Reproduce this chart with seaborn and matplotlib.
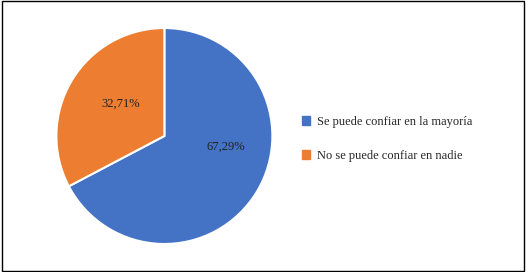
import matplotlib
matplotlib.use("Agg")
import matplotlib.pyplot as plt
import matplotlib.patches as mpatches
import seaborn as sns

categories = ["Se puede confiar en la mayoría", "No se puede confiar en nadie"]
values = [67.29, 32.71]
colors = ["#4472C4", "#ED7D31"]
label_pos = [(0.57, -0.10), (-0.40, 0.30)]

sns.set_theme(style="white")
plt.rcParams["font.family"] = ["Liberation Serif", "DejaVu Serif"]

fig = plt.figure(figsize=(5.26, 2.72), dpi=100)
ax = fig.add_axes([0.107, 0.103, 0.411, 0.794])

wedges, texts, autotexts = ax.pie(
    values, colors=colors, startangle=90, counterclock=False,
    autopct=lambda p: f"{p:.2f}%".replace(".", ","),
    wedgeprops={"edgecolor": "white", "linewidth": 1.5},
    textprops={"fontsize": 9, "color": "#222222"},
)
for t, v, pos in zip(autotexts, values, label_pos):
    t.set_text(f"{v:.2f}%".replace(".", ","))
    t.set_position(pos)
ax.set_xlim(-1.0, 1.0)
ax.set_ylim(-1.0, 1.0)
ax.set_aspect("equal")

handles = [mpatches.Patch(color=c, label=l) for c, l in zip(colors, categories)]
fig.legend(handles=handles, loc="center left", bbox_to_anchor=(0.552, 0.49),
           frameon=False, fontsize=9, handlelength=0.7, handleheight=0.7,
           handletextpad=0.55, labelspacing=1.75)

fig.patches.append(mpatches.Rectangle((0.003, 0.004), 0.994, 0.992,
                                      transform=fig.transFigure, fill=False,
                                      edgecolor="black", linewidth=1.0))

fig.savefig("out.png", dpi=100)
